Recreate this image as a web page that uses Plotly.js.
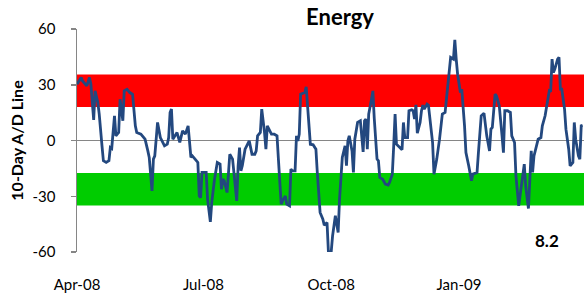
<!DOCTYPE html>
<html>
<head>
<meta charset="utf-8">
<script src="https://cdn.plot.ly/plotly-3.0.1.min.js"></script>
<style>html,body{margin:0;padding:0;background:#fff;}#chart{width:584px;height:296px;}</style>
</head>
<body>
<div id="chart"></div>
<script>
const dates = [
 '2008-04-01','2008-04-04','2008-04-05','2008-04-08','2008-04-10','2008-04-11','2008-04-13','2008-04-14','2008-04-16','2008-04-17',
 '2008-04-19','2008-04-20','2008-04-22','2008-04-24','2008-04-25','2008-04-26','2008-04-28','2008-04-29','2008-04-30','2008-05-01',
 '2008-05-02','2008-05-04','2008-05-05','2008-05-07','2008-05-09','2008-05-11','2008-05-13','2008-05-14','2008-05-17','2008-05-20',
 '2008-05-22','2008-05-23','2008-05-25','2008-05-26','2008-05-27','2008-05-29','2008-05-31','2008-06-01','2008-06-03','2008-06-05',
 '2008-06-06','2008-06-07','2008-06-08','2008-06-09','2008-06-11','2008-06-12','2008-06-14','2008-06-16','2008-06-18','2008-06-20',
 '2008-06-22','2008-06-23','2008-06-25','2008-06-27','2008-06-28','2008-06-29','2008-06-30','2008-07-03','2008-07-04','2008-07-06',
 '2008-07-07','2008-07-09','2008-07-11','2008-07-13','2008-07-14','2008-07-15','2008-07-16','2008-07-18','2008-07-19','2008-07-20',
 '2008-07-22','2008-07-23','2008-07-25','2008-07-26','2008-07-27','2008-07-28','2008-07-29','2008-07-31','2008-08-02','2008-08-03',
 '2008-08-05','2008-08-07','2008-08-08','2008-08-09','2008-08-11','2008-08-12','2008-08-14','2008-08-15','2008-08-16','2008-08-18',
 '2008-08-19','2008-08-21','2008-08-23','2008-08-24','2008-08-25','2008-08-26','2008-08-27','2008-08-29','2008-08-30','2008-09-01',
 '2008-09-02','2008-09-03','2008-09-05','2008-09-06','2008-09-07','2008-09-08','2008-09-09','2008-09-11','2008-09-12','2008-09-13',
 '2008-09-14','2008-09-16','2008-09-18','2008-09-20','2008-09-21','2008-09-23','2008-09-25','2008-09-26','2008-09-28','2008-09-29',
 '2008-10-01','2008-10-02','2008-10-04','2008-10-05','2008-10-06','2008-10-07','2008-10-08','2008-10-09','2008-10-11','2008-10-12',
 '2008-10-13','2008-10-14','2008-10-16','2008-10-17','2008-10-18','2008-10-20','2008-10-22','2008-10-23','2008-10-24','2008-10-25',
 '2008-10-26','2008-10-27','2008-10-28','2008-10-30','2008-10-31','2008-11-01','2008-11-03','2008-11-04','2008-11-05','2008-11-06',
 '2008-11-07','2008-11-09','2008-11-11','2008-11-12','2008-11-14','2008-11-15','2008-11-16','2008-11-17','2008-11-19','2008-11-21',
 '2008-11-22','2008-11-23','2008-11-25','2008-11-26','2008-11-28','2008-11-29','2008-11-30','2008-12-01','2008-12-02','2008-12-04',
 '2008-12-05','2008-12-06','2008-12-07','2008-12-09','2008-12-10','2008-12-11','2008-12-13','2008-12-14','2008-12-16','2008-12-18',
 '2008-12-19','2008-12-20','2008-12-22','2008-12-24','2008-12-26','2008-12-28','2008-12-29','2008-12-30','2008-12-31','2009-01-02',
 '2009-01-03','2009-01-05','2009-01-06','2009-01-08','2009-01-10','2009-01-11','2009-01-14','2009-01-15','2009-01-17','2009-01-19',
 '2009-01-21','2009-01-23','2009-01-24','2009-01-25','2009-01-27','2009-01-28','2009-01-30','2009-02-01','2009-02-02','2009-02-03',
 '2009-02-05','2009-02-07','2009-02-08','2009-02-10','2009-02-11','2009-02-13','2009-02-15','2009-02-17','2009-02-18','2009-02-20',
 '2009-02-22','2009-02-23','2009-02-24','2009-02-26','2009-02-27','2009-03-01','2009-03-02','2009-03-04','2009-03-06','2009-03-07',
 '2009-03-08','2009-03-09','2009-03-10','2009-03-11','2009-03-13','2009-03-14','2009-03-15','2009-03-16','2009-03-18','2009-03-19',
 '2009-03-21','2009-03-22','2009-03-24','2009-03-25','2009-03-26','2009-03-28','2009-03-29','2009-03-30','2009-03-31'
];
const adLine = [
 30.3,33.9,32.0,29.4,33.9,30.3,11.1,26.7,20.4,14.2,
 -2.9,-10.9,-11.8,-10.9,-3.8,-4.3,13.3,2.5,3.4,4.3,
 22.2,10.6,26.7,27.6,25.8,24.9,7.9,4.3,3.4,0.7,
 -5.6,-9.1,-27.1,-10.0,-8.3,9.7,1.6,-0.2,-2.9,-2.0,
 1.6,15.0,16.9,0.7,3.4,4.3,-1.0,5.2,3.4,7.9,
 -9.1,-8.3,-10.0,-11.8,-29.8,-30.7,-17.2,-17.2,-31.6,-43.8,
 -33.4,-20.8,-11.8,-12.7,-26.2,-20.8,-21.7,-28.0,-18.1,-7.4,
 -10.0,-19.0,-32.5,-13.6,-3.8,-16.3,-13.6,-4.7,-1.1,-0.2,
 -7.4,-7.4,-5.6,2.5,4.3,16.9,4.3,-4.7,7.9,4.3,
 3.4,3.4,2.5,-10.0,-22.6,-34.3,-32.5,-29.8,-34.3,-35.2,
 -15.4,-16.3,-16.3,2.5,-0.2,3.4,24.9,25.8,25.8,28.9,
 18.7,-2.0,-2.3,-4.7,-17.2,-38.7,-42.3,-45.6,-44.1,-60.0,
 -60.0,-51.3,-40.5,-45.0,-49.5,-31.6,-17.2,-9.1,-2.9,-13.6,
 -0.2,2.5,-5.6,-17.2,0.7,9.7,10.6,2.5,-6.1,10.6,
 11.5,-4.7,14.2,22.2,26.7,12.0,-10.0,-10.9,-19.9,-20.4,
 -20.8,-23.5,-24.0,-22.6,-18.1,-2.9,14.2,-2.0,-3.8,-5.0,
 9.7,1.6,1.6,16.0,16.5,16.0,11.5,19.2,3.9,9.7,
 16.0,19.0,16.9,19.6,19.0,12.4,-1.1,-18.1,-10.0,0.7,
 7.9,14.2,15.1,31.2,44.7,43.8,54.2,43.8,35.7,25.8,
 27.6,7.9,-6.5,-13.6,-21.7,-18.1,-17.2,-6.5,13.3,14.7,
 2.5,-5.6,6.1,7.0,24.9,24.0,18.7,2.5,-6.5,16.0,
 16.0,15.1,2.5,-1.1,-19.0,-35.2,-24.4,-12.7,-24.4,-36.6,
 -5.6,-17.2,-8.3,-2.9,0.7,1.6,7.9,13.3,21.3,26.7,
 26.2,43.8,36.6,38.4,43.8,44.7,27.6,27.6,16.9,6.1,
 -4.7,-13.6,-11.8,9.7,0.7,-8.3,-10.0,7.9,8.2
];
const tickDates = ['2008-04-01','2008-07-01','2008-10-01','2009-01-01'];
const tickLabels = ['Apr-08','Jul-08','Oct-08','Jan-09'];
const yTicks = [-60,-30,0,30,60];
const overboughtBand = [18, 35.5];
const oversoldBand = [-17.5, -35];
const lastValueLabel = '8.2';

const font = 'Lato, "Open Sans", Arial, sans-serif';
const gray = '#868686';

const trace = {
  x: dates, y: adLine, type: 'scatter', mode: 'lines',
  line: {color: '#23487f', width: 2.8},
  hoverinfo: 'skip'
};

const layout = {
  width: 584, height: 296,
  margin: {l: 77, r: 0, t: 29, b: 44, pad: 0},
  paper_bgcolor: '#ffffff', plot_bgcolor: '#ffffff',
  showlegend: false,
  font: {family: font, color: '#000', size: 15},
  title: {text: '<b>Energy</b>', font: {family: font, size: 22, color: '#000'},
          x: 340/584, xanchor: 'center', y: 1 - 17/296, yanchor: 'middle', xref: 'container', yref: 'container'},
  xaxis: {
    type: 'date', range: ['2008-04-01', '2009-04-01'],
    tickvals: tickDates, ticktext: tickLabels,
    showgrid: false, zeroline: false, showline: false, ticks: '',
    ticklabelstandoff: 22,
    tickfont: {family: font, size: 15, color: '#000'}
  },
  yaxis: {
    range: [-60, 60], tickvals: yTicks, ticktext: yTicks.map(String),
    showgrid: false,
    zeroline: true, zerolinecolor: gray, zerolinewidth: 1.5,
    showline: true, linecolor: gray, linewidth: 1.5,
    ticks: 'outside', ticklen: 5, tickcolor: gray, tickwidth: 1.5,
    ticklabelstandoff: 12,
    tickfont: {family: font, size: 15, color: '#000'},
    title: {text: '<b>10-Day A/D Line</b>', font: {family: font, size: 16, color: '#000'}, standoff: 5}
  },
  shapes: [
    {type: 'rect', xref: 'paper', yref: 'y', x0: 0, x1: 1, y0: overboughtBand[0], y1: overboughtBand[1],
     fillcolor: '#ff0000', line: {width: 0}, layer: 'below'},
    {type: 'rect', xref: 'paper', yref: 'y', x0: 0, x1: 1, y0: oversoldBand[0], y1: oversoldBand[1],
     fillcolor: '#00cc00', line: {width: 0}, layer: 'below'}
  ],
  annotations: [
    {text: '<b>' + lastValueLabel + '</b>', xref: 'paper', yref: 'paper', x: (547-77)/507, y: (252-240)/223,
     xanchor: 'center', yanchor: 'middle', showarrow: false, font: {family: font, size: 17, color: '#000'}}
  ]
};

Plotly.newPlot('chart', [trace], layout, {staticPlot: true, displayModeBar: false});
</script>
</body>
</html>
